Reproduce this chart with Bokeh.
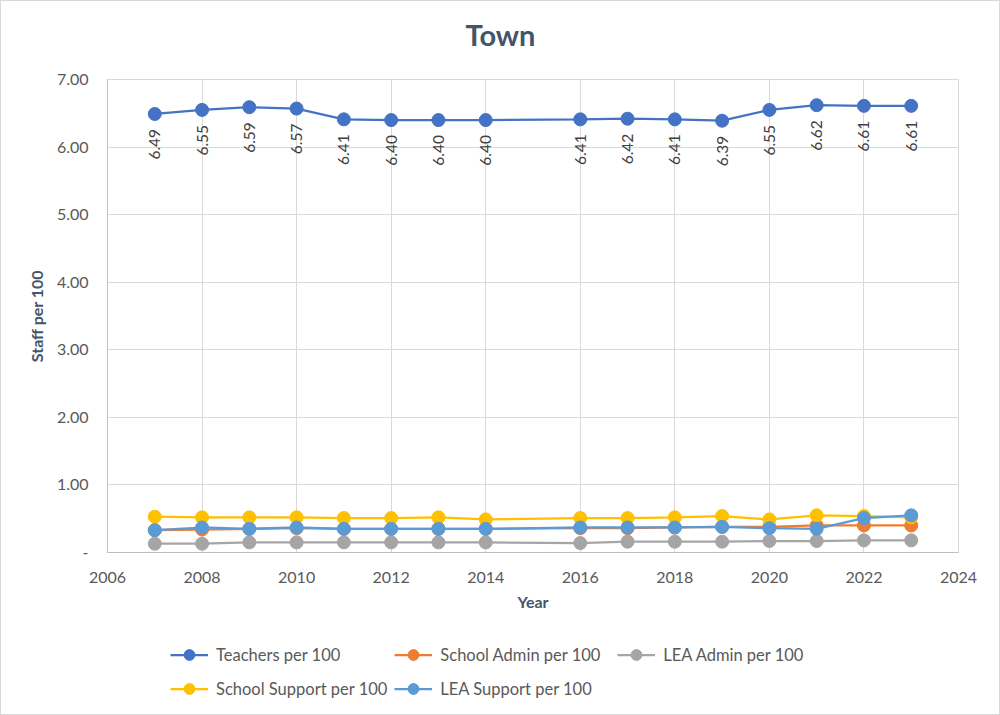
from bokeh.plotting import figure
from bokeh.models import ColumnDataSource, FixedTicker, Legend, LegendItem, PrintfTickFormatter, LabelSet, Label, Range1d
from bokeh.layouts import column
from bokeh.core.properties import value
from bokeh.embed import file_html
from bokeh.resources import INLINE
import math

years = [2007, 2008, 2009, 2010, 2011, 2012, 2013, 2014, 2016, 2017, 2018, 2019, 2020, 2021, 2022, 2023]
teachers = [6.49, 6.55, 6.59, 6.57, 6.41, 6.40, 6.40, 6.40, 6.41, 6.42, 6.41, 6.39, 6.55, 6.62, 6.61, 6.61]
school_admin = [0.33, 0.34, 0.35, 0.36, 0.35, 0.35, 0.35, 0.35, 0.36, 0.36, 0.37, 0.38, 0.38, 0.40, 0.40, 0.40]
lea_admin = [0.13, 0.13, 0.15, 0.15, 0.15, 0.15, 0.15, 0.15, 0.14, 0.16, 0.16, 0.16, 0.17, 0.17, 0.18, 0.18]
school_support = [0.53, 0.52, 0.52, 0.52, 0.51, 0.51, 0.52, 0.49, 0.51, 0.51, 0.52, 0.54, 0.49, 0.55, 0.54, 0.52]
lea_support = [0.33, 0.37, 0.35, 0.37, 0.35, 0.35, 0.35, 0.35, 0.37, 0.37, 0.37, 0.38, 0.36, 0.35, 0.51, 0.55]
x_ticks = list(range(2006, 2025, 2))
y_ticks = [0, 1, 2, 3, 4, 5, 6, 7]

series = [
    ("Teachers per 100", teachers, "#4472C4"),
    ("School Admin per 100", school_admin, "#ED7D31"),
    ("LEA Admin per 100", lea_admin, "#A5A5A5"),
    ("School Support per 100", school_support, "#FFC000"),
    ("LEA Support per 100", lea_support, "#5B9BD5"),
]

FONT = "Lato"
W = 998
TOP_H = 60

# title strip
tp = figure(width=W, height=TOP_H, output_backend="svg", toolbar_location=None,
            x_range=Range1d(0, 1), y_range=Range1d(0, 1),
            x_axis_location=None, y_axis_location=None,
            min_border_left=0, min_border_right=0, min_border_top=0, min_border_bottom=0)
tp.grid.visible = False
tp.outline_line_color = None
tp.add_layout(Label(x=393, y=27, x_units="screen", y_units="screen", text="Town",
                    text_align="center", text_baseline="middle", text_font=FONT,
                    text_font_size="29px", text_font_style="bold", text_color="#44546A"))

p = figure(width=W, height=627 - TOP_H, output_backend="svg", toolbar_location=None,
           x_range=Range1d(2006, 2024), y_range=Range1d(0, 7),
           min_border_left=106, min_border_right=W - 957, min_border_top=78 - TOP_H, min_border_bottom=76)

p.xaxis.ticker = FixedTicker(ticks=x_ticks)
p.yaxis.ticker = FixedTicker(ticks=y_ticks)
p.yaxis.formatter = PrintfTickFormatter(format="%.2f")
p.yaxis.major_label_overrides = {0: "-"}
for ax in (p.xaxis[0], p.yaxis[0]):
    ax.major_tick_line_color = None
    ax.minor_tick_line_color = None
    ax.axis_line_color = "#BFBFBF"
    ax.major_label_text_font = FONT
    ax.major_label_text_font_size = "16px"
    ax.major_label_text_color = "#595959"
    ax.axis_label_text_font = FONT
    ax.axis_label_text_font_size = "16px"
    ax.axis_label_text_font_style = "bold"
    ax.axis_label_text_color = "#44546A"
p.xaxis.axis_label = "Year"
p.yaxis.axis_label = "Staff per 100"
p.xaxis.major_label_standoff = 13
p.xaxis.axis_label_standoff = 6
p.yaxis.major_label_standoff = 13
p.yaxis.axis_label_standoff = 8
p.grid.grid_line_color = "#D9D9D9"
p.grid.grid_line_width = 1
p.outline_line_color = "#D9D9D9"

for name, vals, color in series:
    src = ColumnDataSource(dict(x=years, y=vals))
    p.line("x", "y", source=src, line_color=color, line_width=2.25)
    p.scatter("x", "y", source=src, size=13, fill_color=color, line_color=color)

lab_src = ColumnDataSource(dict(x=years, y=teachers, t=["%.2f" % v for v in teachers]))
labels = LabelSet(x="x", y="y", text="t", source=lab_src, angle=math.pi / 2,
                  text_align="right", text_baseline="middle", y_offset=-15,
                  text_font=value(FONT), text_font_size="15.5px", text_color="#404040")
p.add_layout(labels)

# legend strip (its own frame holds only the legend; the series lie outside its ranges)
lg = figure(width=W, height=86, output_backend="svg", toolbar_location=None,
            x_range=Range1d(0, 1), y_range=Range1d(0, 1),
            x_axis_location=None, y_axis_location=None,
            min_border_left=0, min_border_right=0, min_border_top=0, min_border_bottom=0)
lg.grid.visible = False
lg.outline_line_color = None
items = []
for name, vals, color in series:
    src = ColumnDataSource(dict(x=years, y=vals))
    r1 = lg.line("x", "y", source=src, line_color=color, line_width=2.25)
    r2 = lg.scatter("x", "y", source=src, size=10, fill_color=color, line_color=color)
    items.append(LegendItem(label=name, renderers=[r1, r2]))
legend = Legend(items=items, orientation="horizontal", ncols=3, location=(63, 12),
                label_text_font=FONT, label_text_font_size="16.5px", label_text_color="#595959",
                glyph_width=38, glyph_height=27, label_standoff=8, spacing=7, border_line_color=None,
                background_fill_alpha=0, padding=0, margin=0, label_width=170)
lg.add_layout(legend, "center")

layout = column(tp, p, lg, spacing=0)
layout.styles = {"border": "1px solid #D9D9D9"}

open("out.html", "w").write(file_html(layout, INLINE))
